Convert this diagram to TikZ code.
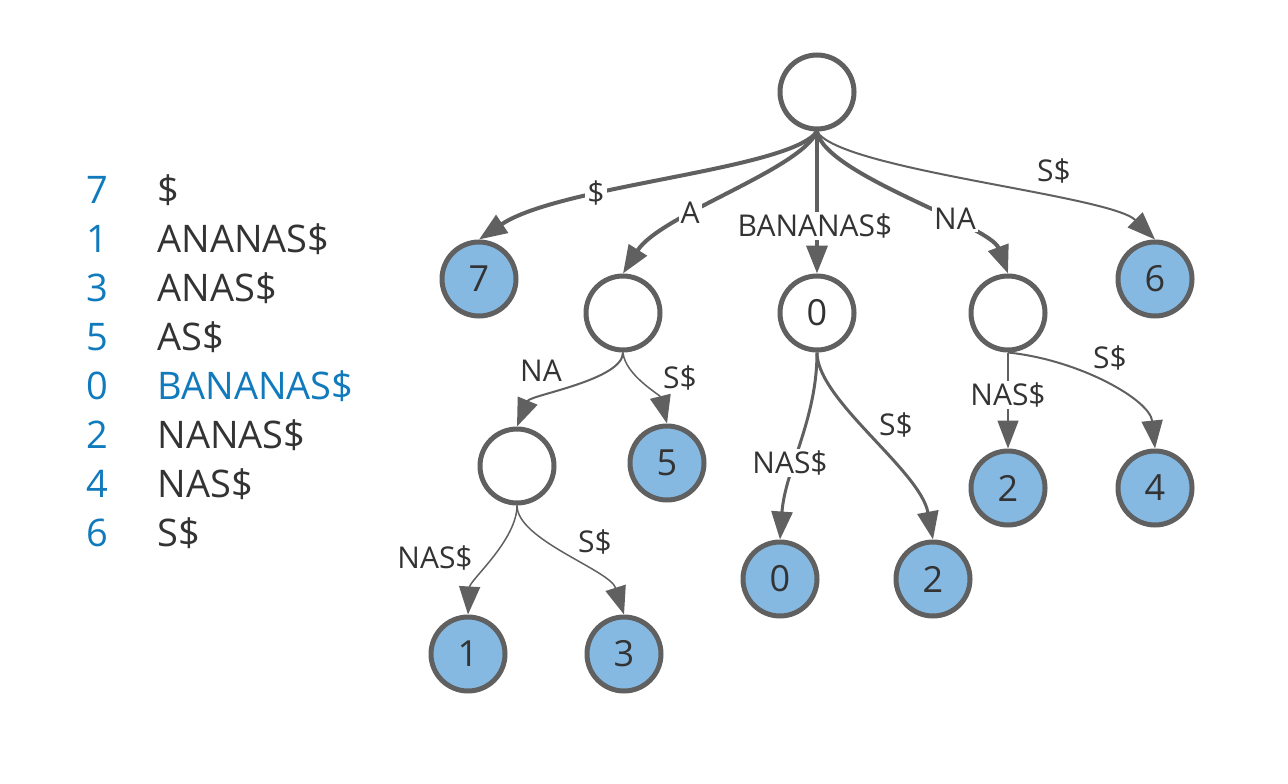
\documentclass[tikz,border=0pt]{standalone}
\usepackage{fontspec}
\setmainfont{Open Sans}
\usetikzlibrary{arrows.meta}
\definecolor{linegray}{RGB}{96,96,96}
\definecolor{leafblue}{RGB}{133,185,226}
\definecolor{idxblue}{RGB}{16,122,188}
\definecolor{inkgray}{RGB}{51,51,51}

\begin{document}
\begin{tikzpicture}[x=1pt, y=-1pt,
    inner/.style={circle, draw=linegray, fill=white, line width=5pt, minimum size=74pt, inner sep=0pt, text=inkgray, font=\fontsize{36}{36}\selectfont},
    leaf/.style={inner, fill=leafblue},
    link/.style={draw=linegray, line width=#1, -{Triangle[length=28pt,width=21pt]}},
    link/.default=2pt,
    lbl/.style={text=inkgray, inner sep=2pt, font=\fontsize{30}{30}\selectfont},
    onlink/.style={lbl, fill=white},
    idx/.style={text=idxblue, anchor=base, font=\fontsize{38}{40}\selectfont},
    sfx/.style={text=inkgray, anchor=base west, font=\fontsize{38}{40}\selectfont}]
    \useasboundingbox (0,0) rectangle (1288,784);

    \node[idx] (i7) at (97,203.5) {7};
    \node[sfx] (s7) at (154,203.5) {\$};
    \node[idx] (i1) at (97,252.5) {1};
    \node[sfx] (s1) at (154,252.5) {ANANAS\$};
    \node[idx] (i3) at (97,301.5) {3};
    \node[sfx] (s3) at (154,301.5) {ANAS\$};
    \node[idx] (i5) at (97,350.5) {5};
    \node[sfx] (s5) at (154,350.5) {AS\$};
    \node[idx] (i0) at (97,399.5) {0};
    \node[sfx, text=idxblue] (s0) at (154,399.5) {BANANAS\$};
    \node[idx] (i2) at (97,448.5) {2};
    \node[sfx] (s2) at (154,448.5) {NANAS\$};
    \node[idx] (i4) at (97,497.5) {4};
    \node[sfx] (s4) at (154,497.5) {NAS\$};
    \node[idx] (i6) at (97,546.5) {6};
    \node[sfx] (s6) at (154,546.5) {S\$};

    \node[inner] (root) at (817,92) {};
    \node[leaf] (n7) at (479,279) {7};
    \node[inner] (nA) at (623,313) {};
    \node[inner] (n0i) at (817,313) {0};
    \node[inner] (nNA) at (1008,313) {};
    \node[leaf] (n6) at (1155,279) {6};
    \node[inner] (nNAc) at (517,466) {};
    \node[leaf] (n5) at (667,463) {5};
    \node[leaf] (n1) at (468,654) {1};
    \node[leaf] (n3) at (624,654) {3};
    \node[leaf] (n0) at (780,579) {0};
    \node[leaf] (n2a) at (933,579) {2};
    \node[leaf] (n2b) at (1008,488) {2};
    \node[leaf] (n4) at (1155,488) {4};

    \draw[link=4pt] (root.south) .. controls (790,170) and (560,185) .. (n7.north);
    \draw[link=4pt] (root.south) .. controls (800,170) and (660,215) .. (nA.north);
    \draw[link=4pt] (root) -- (n0i);
    \draw[link=4pt] (root.south) .. controls (825,175) and (990,225) .. (nNA.north);
    \draw[link=2pt] (root.south) .. controls (840,170) and (1110,195) .. (n6.north);
    \draw[link=2pt] (nA.south) .. controls (623,380) and (530,395) .. (nNAc.north);
    \draw[link=1.5pt] (nA.south) .. controls (625,375) and (660,395) .. (n5.north);
    \draw[link=1.5pt] (nNAc.south) .. controls (517,540) and (470,580) .. (n1.north);
    \draw[link=1.5pt] (nNAc.south) .. controls (517,540) and (610,570) .. (n3.north);
    \draw[link=3pt] (n0i.south) .. controls (817,420) and (785,470) .. (n0.north);
    \draw[link=3pt] (n0i.south) .. controls (817,400) and (920,470) .. (n2a.north);
    \draw[link=1.5pt] (nNA) -- (n2b);
    \draw[link=2pt] (nNA.south) .. controls (1080,360) and (1150,400) .. (n4.north);

    \node[onlink] (l7) at (596,193) {\$};
    \node[onlink] (lA) at (690,213) {A};
    \node[onlink] (l0i) at (815,226) {BANANAS\$};
    \node[onlink] (lNA) at (955,219) {NA};
    \node[lbl] (l6) at (1054,171) {S\$};
    \node[lbl] (lNAc) at (541,371) {NA};
    \node[lbl] (l5) at (680,378) {S\$};
    \node[lbl] (l1) at (435,558) {NAS\$};
    \node[lbl] (l3) at (595,542) {S\$};
    \node[onlink] (l0) at (790,463) {NAS\$};
    \node[lbl] (l2a) at (896,425) {S\$};
    \node[onlink] (l2b) at (1008,395) {NAS\$};
    \node[lbl] (l4) at (1110,358) {S\$};
\end{tikzpicture}
\end{document}
